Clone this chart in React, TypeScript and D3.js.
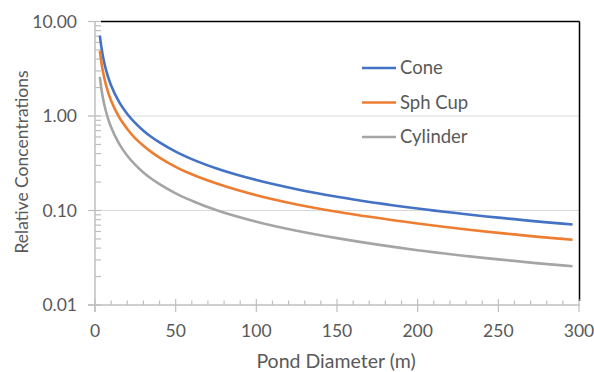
import React from "react";
import * as d3 from "d3";

// pond diameter (m) at which values were read
const diameters = [3, 4, 5, 6, 8, 10, 15, 20, 25, 30, 35, 40, 50, 60, 75, 100, 125, 150, 200, 250, 296];
const coneValues = [7.1, 5.3, 4.2, 3.5, 2.62, 2.1, 1.4, 1.05, 0.84, 0.7, 0.6, 0.525, 0.42, 0.35, 0.28, 0.21, 0.168, 0.14, 0.105, 0.084, 0.071];
const sphCupValues = [4.9, 3.65, 2.9, 2.42, 1.81, 1.45, 0.97, 0.73, 0.58, 0.485, 0.415, 0.363, 0.29, 0.242, 0.194, 0.145, 0.116, 0.097, 0.073, 0.058, 0.049];
const cylinderValues = [2.6, 1.92, 1.52, 1.27, 0.95, 0.76, 0.507, 0.38, 0.304, 0.253, 0.217, 0.19, 0.152, 0.127, 0.101, 0.076, 0.061, 0.051, 0.038, 0.0304, 0.0257];

const seriesNames = ["Cone", "Sph Cup", "Cylinder"];
const seriesColors = ["#4472C4", "#ED7D31", "#A5A5A5"];
const xTicks = [0, 50, 100, 150, 200, 250, 300];
const yTicks = [0.01, 0.1, 1, 10];

const W = 594;
const H = 372;
const FONT = "Lato, 'Open Sans', sans-serif";
const TEXT = "#595959";

export default function App() {
  const x = d3.scaleLinear().domain([0, 300]).range([95, 579]);
  const y = d3.scaleLog().domain([0.01, 10]).range([305, 21.5]);

  const allSeries = [coneValues, sphCupValues, cylinderValues].map((vals, i) => ({
    name: seriesNames[i],
    color: seriesColors[i],
    points: diameters.map((d, j) => [d, vals[j]] as [number, number]),
  }));

  const line = d3
    .line<[number, number]>()
    .x((d) => x(d[0]))
    .y((d) => y(d[1]))
    .curve(d3.curveMonotoneX);

  const minorX = d3.range(10, 300, 10).filter((v) => v % 50 !== 0);
  const minorY: number[] = [];
  [0.01, 0.1, 1].forEach((base) => {
    for (let k = 2; k <= 9; k++) minorY.push(base * k);
  });

  const x0 = x(0);
  const y0 = y(0.01);
  const axisColor = "#BFBFBF";

  return (
    <svg
      width={W}
      height={H}
      style={{ position: "absolute", left: 0, top: 0, background: "#fff" }}
      fontFamily={FONT}
    >
      {/* gridlines */}
      {yTicks.slice(1).map((t) => (
        <line key={`g${t}`} x1={88} x2={579} y1={y(t)} y2={y(t)} stroke="#D9D9D9" strokeWidth={1} />
      ))}
      {/* black top/right border */}
      <line x1={101} x2={579.5} y1={y(10)} y2={y(10)} stroke="#000" strokeWidth={1.5} />
      <line x1={579.5} x2={579.5} y1={y(10)} y2={301} stroke="#000" strokeWidth={1.5} />

      {/* y axis */}
      <line x1={x0} x2={x0} y1={y(10)} y2={312} stroke={axisColor} strokeWidth={1.5} />
      {yTicks.map((t) => (
        <line key={`yt${t}`} x1={88} x2={101} y1={y(t)} y2={y(t)} stroke={axisColor} strokeWidth={1.2} />
      ))}
      {minorY.map((t) => (
        <line key={`ym${t}`} x1={x0} x2={x0 + 6} y1={y(t)} y2={y(t)} stroke={axisColor} strokeWidth={1.2} />
      ))}
      {yTicks.map((t) => (
        <text
          key={`yl${t}`}
          x={77}
          y={y(t)}
          dy="0.35em"
          textAnchor="end"
          fontSize={17.5}
          fill={TEXT}
        >
          {t.toFixed(2)}
        </text>
      ))}

      {/* x axis */}
      <line x1={88} x2={579.5} y1={y0} y2={y0} stroke={axisColor} strokeWidth={1.5} />
      {xTicks.map((t) => (
        <line key={`xt${t}`} x1={x(t)} x2={x(t)} y1={299} y2={312} stroke={axisColor} strokeWidth={1.2} />
      ))}
      {minorX.map((t) => (
        <line key={`xm${t}`} x1={x(t)} x2={x(t)} y1={300.5} y2={y0} stroke={axisColor} strokeWidth={1.2} />
      ))}
      {xTicks.map((t) => (
        <text key={`xl${t}`} x={x(t)} y={331} dy="0.35em" textAnchor="middle" fontSize={17.5} fill={TEXT}>
          {t}
        </text>
      ))}

      {/* axis titles */}
      <text x={336} y={361} dy="0.35em" textAnchor="middle" fontSize={19.5} fill={TEXT}>
        Pond Diameter (m)
      </text>
      <text
        transform={`translate(22,162) rotate(-90)`}
        dy="0.35em"
        textAnchor="middle"
        fontSize={17.5}
        fill={TEXT}
      >
        Relative Concentrations
      </text>

      {/* series */}
      {allSeries.map((s) => (
        <path key={s.name} d={line(s.points) ?? ""} fill="none" stroke={s.color} strokeWidth={2.6} />
      ))}

      {/* legend */}
      {allSeries.map((s, i) => {
        const ly = 68 + i * 34.5;
        return (
          <g key={`lg${s.name}`}>
            <line x1={362} x2={396} y1={ly} y2={ly} stroke={s.color} strokeWidth={2.6} />
            <text x={400} y={ly} dy="0.35em" fontSize={18.5} fill={TEXT}>
              {s.name}
            </text>
          </g>
        );
      })}
    </svg>
  );
}
